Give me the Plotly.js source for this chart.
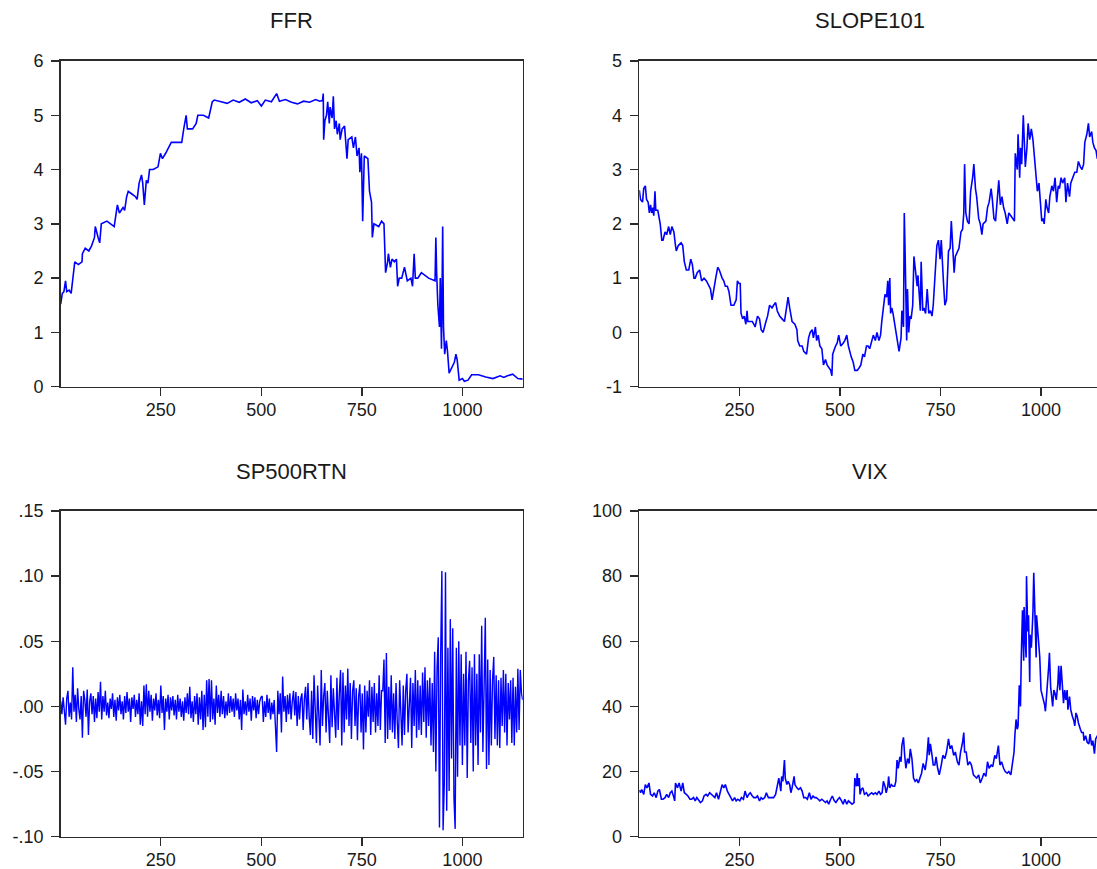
<!DOCTYPE html>
<html>
<head>
<meta charset="utf-8">
<script src="https://cdn.plot.ly/plotly-3.0.1.min.js"></script>
<style>
html,body{margin:0;padding:0;background:#fff;overflow:hidden;}
#chart{width:1110px;height:869px;}
</style>
</head>
<body>
<div id="chart"></div>
<script>
const titles = ["FFR", "SLOPE101", "SP500RTN", "VIX"];
const xTicks = [250, 500, 750, 1000];

const ffrObs = [1,5,9,13,16,22,27,31,36,45,54,55,62,71,78,85,87,94,98,102,116,125,134,142,147,156,160,165,169,178,187,191,196,202,205,209,214,218,222,231,243,249,254,262,271,276,285,294,302,307,313,316,329,338,342,356,369,378,383,400,415,430,445,460,475,490,500,510,525,538,545,560,575,590,605,620,635,645,652,654,655,658,662,665,669,671,676,679,682,686,689,694,696,701,707,713,716,725,729,734,738,743,745,749,752,756,765,769,774,776,780,792,799,805,807,809,814,816,821,825,831,836,839,843,849,856,863,872,876,880,883,889,898,916,932,934,936,939,943,945,948,951,953,956,960,963,967,974,980,984,987,992,1000,1005,1014,1023,1040,1058,1076,1094,1103,1112,1125,1138,1150];
const ffrVal = [1.52,1.72,1.75,1.95,1.75,1.78,1.72,2.0,2.3,2.25,2.3,2.45,2.55,2.5,2.6,2.75,2.95,2.75,2.65,3.0,3.05,3.0,2.95,3.35,3.2,3.3,3.25,3.5,3.6,3.55,3.5,3.45,3.75,3.9,3.75,3.35,3.8,3.75,4.0,4.0,4.05,4.3,4.2,4.3,4.45,4.5,4.5,4.5,4.5,4.75,5.0,4.75,4.75,4.85,5.0,5.0,4.95,5.25,5.28,5.25,5.22,5.28,5.24,5.3,5.23,5.27,5.17,5.28,5.25,5.4,5.26,5.29,5.24,5.21,5.26,5.24,5.29,5.26,5.27,5.4,4.55,4.9,5.0,5.25,4.85,5.15,4.95,5.35,4.75,4.9,4.65,4.85,4.55,4.75,4.8,4.2,4.55,4.6,4.4,4.6,4.25,4.4,3.95,4.3,3.05,4.25,4.2,3.6,3.4,2.75,3.0,2.95,3.05,3.0,2.45,2.1,2.3,2.45,2.2,2.35,2.3,2.35,1.85,2.0,2.0,2.2,1.95,2.0,1.85,2.45,2.0,2.0,2.1,2.0,1.95,2.75,2.1,1.5,1.1,2.0,0.7,2.95,1.1,0.6,0.85,0.65,0.25,0.35,0.45,0.6,0.5,0.12,0.15,0.1,0.12,0.22,0.22,0.18,0.15,0.2,0.17,0.2,0.23,0.15,0.14];

const slopeObs = [1,4,9,12,16,19,23,26,29,32,35,37,40,42,47,50,53,57,60,65,69,74,78,82,87,91,93,98,105,109,113,118,124,129,133,137,140,145,151,156,162,168,174,178,182,186,191,196,200,207,211,215,220,224,229,236,242,245,249,252,254,258,262,266,269,271,278,282,286,289,295,300,304,309,316,320,325,331,335,340,344,350,356,362,368,371,375,379,381,388,393,395,400,406,410,417,422,426,431,434,439,442,446,450,455,459,464,468,473,477,480,482,489,493,497,502,508,512,517,521,528,533,537,543,548,552,557,561,566,570,574,579,583,588,592,597,601,604,608,612,616,619,621,624,626,629,632,635,639,644,647,652,654,658,660,662,664,666,668,671,674,677,681,684,687,692,694,698,700,702,706,709,713,717,721,725,729,732,737,741,745,749,752,754,758,761,765,770,774,777,780,784,787,792,796,801,805,808,810,813,817,821,825,830,833,837,840,845,849,853,856,863,867,871,876,879,883,887,892,895,899,903,907,911,916,920,925,929,934,936,941,943,947,949,952,956,958,961,965,968,972,976,980,983,987,991,995,998,1002,1005,1008,1012,1015,1019,1022,1027,1031,1035,1039,1043,1046,1050,1054,1059,1062,1066,1071,1074,1080,1084,1089,1093,1098,1102,1106,1109,1114,1118,1121,1126,1129,1133,1137,1140,1145,1150];
const slopeVal = [2.62,2.45,2.4,2.65,2.7,2.45,2.4,2.2,2.35,2.2,2.3,2.15,2.6,2.25,2.25,2.15,2.0,1.7,1.7,1.85,1.8,1.95,1.8,1.95,1.85,1.6,1.5,1.6,1.65,1.6,1.3,1.15,1.15,1.35,1.25,1.0,1.0,1.1,1.15,0.95,1.0,0.95,0.85,0.8,0.6,0.8,1.0,1.2,1.15,1.0,0.95,0.85,0.85,0.75,0.5,0.5,0.6,0.95,0.9,0.9,0.35,0.25,0.3,0.15,0.4,0.2,0.2,0.2,0.15,0.1,0.3,0.25,0.05,0.0,0.2,0.3,0.5,0.45,0.5,0.55,0.4,0.3,0.25,0.2,0.5,0.65,0.45,0.3,0.2,0.15,0.05,-0.15,-0.25,-0.25,-0.35,-0.4,-0.1,0.0,0.05,-0.1,0.1,-0.15,-0.05,-0.25,-0.3,-0.6,-0.5,-0.6,-0.65,-0.7,-0.8,-0.4,-0.25,-0.2,-0.05,-0.25,-0.2,-0.15,-0.05,-0.25,-0.45,-0.55,-0.7,-0.7,-0.65,-0.6,-0.4,-0.45,-0.25,-0.25,-0.3,-0.15,-0.05,-0.15,0.0,-0.15,-0.05,0.2,0.5,0.7,0.65,0.95,0.5,1.0,0.35,0.45,0.35,0.2,0.05,-0.2,-0.35,-0.1,0.4,0.1,2.2,1.5,0.6,-0.15,0.8,0.0,0.3,0.25,0.5,1.4,1.2,0.85,1.05,0.45,0.4,1.3,0.4,0.45,0.35,0.8,0.35,0.4,0.3,0.5,1.1,1.6,1.7,1.35,1.7,1.3,0.85,0.5,0.6,1.5,1.55,2.05,1.5,1.1,1.4,1.5,1.55,1.85,1.9,2.2,3.1,2.2,2.05,2.0,2.6,2.85,3.1,2.65,2.5,2.1,2.0,1.8,2.0,2.05,2.3,2.4,2.65,2.45,2.1,2.05,2.45,2.8,2.35,2.5,2.3,2.2,2.0,2.2,2.15,2.1,2.05,3.3,3.0,3.65,2.85,3.4,3.1,4.0,3.6,3.05,3.4,3.85,3.55,3.75,3.55,3.3,2.95,2.6,2.75,2.4,2.05,2.1,2.0,2.45,2.3,2.2,2.5,2.7,2.6,2.85,2.4,2.7,2.65,2.85,2.75,2.85,2.4,2.75,2.5,2.75,2.85,2.95,2.95,3.15,3.05,3.0,3.1,3.5,3.65,3.85,3.6,3.7,3.5,3.4,3.35,3.2,3.25,3.2];

// SP500RTN: one value every 3 observations, starting at observation 1
const spStep = 3;
const spVal = [
.004,-.006,.007,-.003,-.014,.006,.012,-.008,.003,-.010,.030,-.004,.009,-.012,.014,-.002,-.010,.008,-.024,.012,.005,-.008,.013,-.022,.004,.010,-.006,.008,-.012,.006,-.009,.011,-.004,.019,
-.010,.008,-.004,.012,-.007,.003,-.009,.006,-.002,.010,
-.008,.005,-.011,.007,-.003,.009,-.006,.004,-.010,.008,
-.005,.011,-.004,.006,-.012,.007,-.002,.009,-.008,.005,
-.006,.010,-.014,.004,-.015,.016,-.006,.017,-.008,.012,
-.004,.009,-.011,.006,-.003,.010,-.007,.005,-.009,.016,
-.005,.008,-.018,.006,-.004,.009,-.010,.007,-.003,.008,
-.007,.005,-.010,.009,-.004,.006,-.008,.004,-.011,.007,
-.005,.010,-.006,.015,-.009,.004,-.012,.008,-.006,.010,
-.014,.007,-.010,.012,-.018,.009,-.016,.020,-.008,.021,
-.012,.020,-.010,.006,-.014,.016,-.005,.009,-.008,.012,
-.006,.008,-.009,.004,-.007,.010,-.005,.008,-.004,.006,
-.008,.010,-.003,.006,-.010,.005,-.018,.013,-.006,.004,
-.007,.009,-.004,.006,-.011,.008,-.003,.007,-.009,.005,
-.006,.004,.007,
.008,-.012,.004,-.008,.009,-.005,.006,-.010,.003,-.006,
.005,-.018,-.035,.012,-.006,.010,-.020,.023,-.004,.008,
-.012,.009,-.006,.010,-.010,.004,.012,-.007,.011,-.015,
.008,-.010,.006,
.010,-.018,.006,.015,-.010,.018,-.008,-.022,.012,-.025,
.024,-.012,-.028,.016,-.006,-.030,.028,-.015,.008,.018,
-.020,.012,-.008,-.028,.024,-.016,.014,-.006,-.024,.022,
-.018,.010,.028,-.030,.026,-.020,.016,-.010,.029,-.015,
.018,-.025,.012,.020,-.015,.014,-.026,.008,.017,-.020,
.010,-.033,.016,-.020,.012,-.008,.020,-.022,.015,-.012,
.018,-.020,.010,-.015,.024,-.018,.012,
.012,.036,-.028,.041,-.025,.015,-.018,.024,-.020,.010,
-.025,.018,-.012,-.032,.020,-.008,-.030,.016,-.022,.012,
.025,-.020,.008,.022,-.032,.018,-.015,.028,-.024,.020,
-.018,.016,-.022,.026,-.012,.030,-.024,.020,-.015,.022,
-.030,.018,-.035,
.042,-.050,.030,.053,-.093,.040,.104,-.095,-.060,.103,
-.080,.045,-.065,.067,-.040,.060,-.070,-.094,.045,-.054,
.050,-.030,.040,-.045,
.025,-.030,.042,-.055,.020,.035,-.028,.030,-.050,.040,
-.030,.025,-.045,.040,-.020,.062,-.035,.015,.068,-.048,
.036,-.045,.028,-.030,.020,.038,-.025,.024,-.030,.020,
-.032,.022,-.015,.028,-.020,.025,-.030,.018,-.010,.020,
-.028,.022,-.030,.015,-.020,.029,-.018,.028,.010,.005
];
const spObs = spVal.map((_, i) => 1 + spStep * i);
const spTickVals = [0.15, 0.10, 0.05, 0.00, -0.05, -0.10];
const spTickText = [".15", ".10", ".05", ".00", "-.05", "-.10"];

const vixObs = [1,4,7,12,16,20,25,29,34,38,43,47,51,56,60,65,69,74,78,82,87,89,91,96,100,105,109,113,118,122,127,131,136,140,144,149,153,158,162,167,171,176,180,184,189,193,198,202,207,211,215,220,224,229,233,238,242,246,251,255,260,264,269,273,277,282,286,291,295,300,304,308,313,317,322,326,331,335,340,344,348,353,355,358,362,364,368,371,375,378,381,386,388,393,397,402,406,410,415,419,424,428,433,437,441,446,450,455,459,464,468,472,477,481,486,490,495,499,504,508,512,517,521,526,530,535,537,541,543,545,548,550,553,557,561,566,570,574,579,583,588,592,597,601,605,608,612,615,619,621,624,628,632,636,639,642,645,649,652,654,658,661,664,668,672,675,679,683,687,691,695,699,703,707,712,716,720,722,725,729,732,736,739,743,747,752,756,761,765,770,774,778,783,787,792,796,800,805,808,810,814,818,823,827,832,836,840,845,849,854,858,863,867,871,876,880,885,889,894,898,902,907,911,916,920,925,929,933,935,938,941,943,946,949,951,954,957,958,961,963,964,967,969,972,973,976,979,980,982,985,988,989,992,995,997,1000,1004,1009,1011,1015,1019,1021,1024,1027,1029,1032,1035,1038,1042,1044,1047,1050,1053,1056,1059,1062,1065,1067,1071,1074,1078,1082,1084,1087,1090,1093,1098,1101,1105,1107,1111,1115,1119,1122,1126,1129,1133,1136,1140,1145,1150];
const vixVal = [14.3,13.5,14.5,13,16,15,16.5,13,12.5,13.5,12,14,14.5,11.5,11.5,12,13,12,13.5,14,12,11,16.5,15,16.5,14,16.5,13.5,13,12.5,11.5,11.5,12,11,12,11,10.5,11,12.5,13,12.5,13.5,13,12.5,12,13.5,11.5,13.5,16,15,16,14,13,11.5,11,12,11,11.5,11,12,11.5,14,12,13,13.5,12.5,12,12,12.5,11,12,11.5,12,13.5,12,12,12,12,13,15.5,18,14,18.5,17,23.5,18,16,17,16,13.5,15,18.5,16,15,14.5,15,14,12,12,11.5,13.5,11.5,12.5,12,12,11.5,11,11.5,11,10.5,11,10,11.5,12.5,11,10.5,11.5,12,11,10,11.5,10,11,10.5,10,10.5,18,15.5,19.5,15.5,18,13,14.5,15,13,13.5,12.5,13,13.5,13,13.5,13,14,13,13.5,17,15.5,13.5,15.5,18.5,15,16,15.5,15.5,17,23.5,21,24.5,23,28,30.5,25,21,24,22.5,27,24,18,17,17.5,16.5,18,19.5,22.5,20.5,24,30.5,25,28.5,25,22,22,24.5,21,19,22,25,24,26,30,27,28,25,26,23,22,26,29,32,26,26,22,23,22,19,18.5,18,19,16.5,18,19.5,18.5,23,21,22,21.5,25,24,28,22,23,21,20,19.5,20,19,23,26,31,36,33,34,46.5,40,55,69.5,54,70.5,60,55,80,63,68,47.5,62,58,66,69,81,66,55,68,63,59,55,45,43,40.5,38.5,44,52,56.5,46,42.5,40,45,44,42,47,52.5,45,52.5,48,41,45,42,45,39,43,39,37,35.5,34,38,37,35,33,32,32,29.5,31,29,28.5,31.5,28,29.5,25.5,30,31,30,29];

const series = [
  {x: ffrObs, y: ffrVal},
  {x: slopeObs, y: slopeVal},
  {x: spObs, y: spVal},
  {x: vixObs, y: vixVal}
];
const yRanges = [[0, 6], [-1, 5], [-0.10, 0.15], [0, 100]];
const yTickVals = [[0,1,2,3,4,5,6], [-1,0,1,2,3,4,5], spTickVals, [0,20,40,60,80,100]];
const yTickText = [["0","1","2","3","4","5","6"], ["-1","0","1","2","3","4","5"], spTickText, ["0","20","40","60","80","100"]];

// ---- Layout ----
const W = 1110, H = 869;
const xDomains = [[60.7/W, 522.7/W], [639.3/W, 1101.3/W]];
const yDomains = [[1 - 386.7/H, 1 - 61/H], [1 - 836.7/H, 1 - 511/H]];
const fontFam = "Liberation Sans, Arial, sans-serif";
const frame = "#2b2b2b";

const traces = [];
const layout = {
  width: W, height: H,
  margin: {l: 0, r: 0, t: 0, b: 0},
  paper_bgcolor: "#ffffff", plot_bgcolor: "#ffffff",
  showlegend: false,
  font: {family: fontFam, color: "#1a1a1a"},
  annotations: []
};

series.forEach((s, i) => {
  const n = i === 0 ? "" : String(i + 1);
  const col = i % 2, row = Math.floor(i / 2);
  traces.push({
    type: "scatter", mode: "lines", x: s.x, y: s.y,
    xaxis: "x" + n, yaxis: "y" + n,
    line: {color: "#0000ff", width: i === 2 ? 1.4 : 1.6}, hoverinfo: "skip"
  });
  const common = {
    showline: true, mirror: true, linecolor: frame, linewidth: 1.6,
    ticks: "outside", ticklen: 8, tickwidth: 1.3, tickcolor: frame,
    showgrid: false, zeroline: false, fixedrange: true,
    tickfont: {family: fontFam, size: 18, color: "#1a1a1a"}
  };
  layout["xaxis" + n] = Object.assign({}, common, {
    domain: xDomains[col], anchor: "y" + n, range: [1, 1150],
    tickmode: "array", tickvals: xTicks, ticktext: xTicks.map(String),
    ticklabelstandoff: -2
  });
  layout["yaxis" + n] = Object.assign({}, common, {
    domain: yDomains[row], anchor: "x" + n, range: yRanges[i],
    tickmode: "array", tickvals: yTickVals[i], ticktext: yTickText[i],
    ticklabelstandoff: 4
  });
  layout.annotations.push({
    text: titles[i], xref: "paper", yref: "paper",
    x: (xDomains[col][0] + xDomains[col][1]) / 2,
    y: row === 0 ? 1 - 21/H : 1 - 471/H,
    xanchor: "center", yanchor: "middle", showarrow: false,
    font: {family: fontFam, size: 22, color: "#1a1a1a"}
  });
});

Plotly.newPlot("chart", traces, layout, {displayModeBar: false, staticPlot: true});
</script>
</body>
</html>
